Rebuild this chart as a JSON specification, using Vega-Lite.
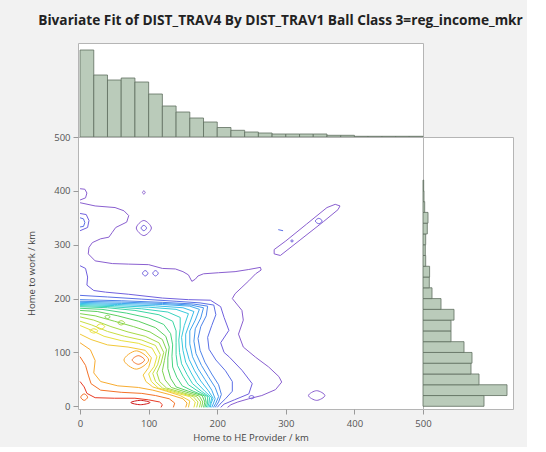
{
"$schema": "https://vega.github.io/schema/vega-lite/v6.json",
"background": "#f2f2f2",
"padding": {"left": 26, "top": 13, "right": 4, "bottom": 4},
"title": {"text": "Bivariate Fit of DIST_TRAV4 By DIST_TRAV1 Ball Class 3=reg_income_mkr", "anchor": "start", "font": "Open Sans", "fontSize": 13.7, "fontWeight": "bold", "color": "#222222", "offset": 15, "dx": 12},
"bounds": "flush",
"spacing": 0,
"config": {"view": {"stroke": "#b5b5b5", "fill": "white"}},
"datasets": {
"top": [
{"b0":0,"b1":20,"n":87},{"b0":20,"b1":40,"n":62},{"b0":40,"b1":60,"n":57},{"b0":60,"b1":80,"n":59},{"b0":80,"b1":100,"n":55},
{"b0":100,"b1":120,"n":43},{"b0":120,"b1":140,"n":31},{"b0":140,"b1":160,"n":25},{"b0":160,"b1":180,"n":19},{"b0":180,"b1":200,"n":15},
{"b0":200,"b1":220,"n":9.5},{"b0":220,"b1":240,"n":6.7},{"b0":240,"b1":260,"n":5},{"b0":260,"b1":280,"n":4},{"b0":280,"b1":300,"n":3},
{"b0":300,"b1":320,"n":3},{"b0":320,"b1":340,"n":3},{"b0":340,"b1":360,"n":3},{"b0":360,"b1":380,"n":1.7},{"b0":380,"b1":400,"n":1.7},
{"b0":400,"b1":420,"n":0.7},{"b0":420,"b1":440,"n":0.7},{"b0":440,"b1":460,"n":0.7},{"b0":460,"b1":480,"n":0.7},{"b0":480,"b1":500,"n":0.7}
],
"right": [
{"b0":0,"b1":20,"n":61},{"b0":20,"b1":40,"n":84},{"b0":40,"b1":60,"n":56},{"b0":60,"b1":80,"n":48},{"b0":80,"b1":100,"n":49},
{"b0":100,"b1":120,"n":41},{"b0":120,"b1":140,"n":28},{"b0":140,"b1":160,"n":28},{"b0":160,"b1":180,"n":31},{"b0":180,"b1":200,"n":18},
{"b0":200,"b1":220,"n":9},{"b0":220,"b1":240,"n":6.3},{"b0":240,"b1":260,"n":6.6},{"b0":260,"b1":280,"n":2.7},{"b0":280,"b1":300,"n":2.3},
{"b0":300,"b1":320,"n":2.7},{"b0":320,"b1":340,"n":4.3},{"b0":340,"b1":360,"n":5},{"b0":360,"b1":380,"n":1.7},{"b0":380,"b1":400,"n":1},
{"b0":400,"b1":420,"n":0.7}
],
"cont": [
{"c":"a1","k":"a","l":1,"x":0,"y":378},{"c":"a1","k":"a","l":1,"x":22,"y":372},{"c":"a1","k":"a","l":1,"x":51,"y":369},{"c":"a1","k":"a","l":1,"x":64,"y":363},{"c":"a1","k":"a","l":1,"x":71,"y":354},{"c":"a1","k":"a","l":1,"x":68,"y":342},{"c":"a1","k":"a","l":1,"x":52,"y":332},{"c":"a1","k":"a","l":1,"x":47,"y":323},{"c":"a1","k":"a","l":1,"x":42,"y":314},{"c":"a1","k":"a","l":1,"x":30,"y":311},{"c":"a1","k":"a","l":1,"x":18,"y":304},{"c":"a1","k":"a","l":1,"x":13,"y":295},{"c":"a1","k":"a","l":1,"x":12,"y":283},{"c":"a1","k":"a","l":1,"x":22,"y":270},{"c":"a1","k":"a","l":1,"x":47,"y":265},{"c":"a1","k":"a","l":1,"x":71,"y":264},{"c":"a1","k":"a","l":1,"x":100,"y":263},{"c":"a1","k":"a","l":1,"x":120,"y":256},{"c":"a1","k":"a","l":1,"x":139,"y":255},{"c":"a1","k":"a","l":1,"x":150,"y":250},{"c":"a1","k":"a","l":1,"x":158,"y":244},{"c":"a1","k":"a","l":1,"x":163,"y":232},{"c":"a1","k":"a","l":1,"x":168,"y":236},{"c":"a1","k":"a","l":1,"x":172,"y":242},{"c":"a1","k":"a","l":1,"x":180,"y":246},{"c":"a1","k":"a","l":1,"x":202,"y":248},{"c":"a1","k":"a","l":1,"x":226,"y":250},{"c":"a1","k":"a","l":1,"x":246,"y":254},{"c":"a1","k":"a","l":1,"x":263,"y":258},{"c":"a1","k":"a","l":1,"x":264,"y":253},{"c":"a1","k":"a","l":1,"x":256,"y":246},{"c":"a1","k":"a","l":1,"x":246,"y":233},{"c":"a1","k":"a","l":1,"x":236,"y":221},{"c":"a1","k":"a","l":1,"x":226,"y":209},{"c":"a1","k":"a","l":1,"x":222,"y":200},{"c":"a1","k":"a","l":1,"x":236,"y":178},{"c":"a1","k":"a","l":1,"x":238,"y":160},{"c":"a1","k":"a","l":1,"x":231,"y":134},{"c":"a1","k":"a","l":1,"x":238,"y":110},{"c":"a1","k":"a","l":1,"x":256,"y":91},{"c":"a1","k":"a","l":1,"x":275,"y":73},{"c":"a1","k":"a","l":1,"x":290,"y":55},{"c":"a1","k":"a","l":1,"x":294,"y":45},{"c":"a1","k":"a","l":1,"x":285,"y":31},{"c":"a1","k":"a","l":1,"x":265,"y":20},{"c":"a1","k":"a","l":1,"x":246,"y":14},{"c":"a1","k":"a","l":1,"x":230,"y":8},{"c":"a1","k":"a","l":1,"x":220,"y":3},{"c":"a1","k":"a","l":1,"x":215,"y":-2},
{"c":"a1b","k":"a","l":1,"x":0,"y":404},{"c":"a1b","k":"a","l":1,"x":7,"y":403},{"c":"a1b","k":"a","l":1,"x":10,"y":396},{"c":"a1b","k":"a","l":1,"x":8,"y":387},{"c":"a1b","k":"a","l":1,"x":0,"y":383},
{"c":"e1","k":"a","l":1,"x":283,"y":283},{"c":"e1","k":"a","l":1,"x":292,"y":280},{"c":"e1","k":"a","l":1,"x":322,"y":310},{"c":"e1","k":"a","l":1,"x":355,"y":343},{"c":"e1","k":"a","l":1,"x":376,"y":365},{"c":"e1","k":"a","l":1,"x":379,"y":372},{"c":"e1","k":"a","l":1,"x":372,"y":375},{"c":"e1","k":"a","l":1,"x":360,"y":369},{"c":"e1","k":"a","l":1,"x":330,"y":338},{"c":"e1","k":"a","l":1,"x":300,"y":307},{"c":"e1","k":"a","l":1,"x":283,"y":291},{"c":"e1","k":"a","l":1,"x":283,"y":283},
{"c":"a2","k":"a","l":2,"x":0,"y":261},{"c":"a2","k":"a","l":2,"x":8,"y":256},{"c":"a2","k":"a","l":2,"x":11,"y":240},{"c":"a2","k":"a","l":2,"x":10,"y":225},{"c":"a2","k":"a","l":2,"x":20,"y":215},{"c":"a2","k":"a","l":2,"x":37,"y":212},{"c":"a2","k":"a","l":2,"x":71,"y":208},{"c":"a2","k":"a","l":2,"x":120,"y":201},{"c":"a2","k":"a","l":2,"x":158,"y":198},{"c":"a2","k":"a","l":2,"x":190,"y":197},{"c":"a2","k":"a","l":2,"x":205,"y":185},{"c":"a2","k":"a","l":2,"x":210,"y":165},{"c":"a2","k":"a","l":2,"x":217,"y":141},{"c":"a2","k":"a","l":2,"x":205,"y":118},{"c":"a2","k":"a","l":2,"x":210,"y":100},{"c":"a2","k":"a","l":2,"x":218,"y":91},{"c":"a2","k":"a","l":2,"x":236,"y":67},{"c":"a2","k":"a","l":2,"x":251,"y":42},{"c":"a2","k":"a","l":2,"x":246,"y":23},{"c":"a2","k":"a","l":2,"x":225,"y":12},{"c":"a2","k":"a","l":2,"x":210,"y":4},{"c":"a2","k":"a","l":2,"x":205,"y":-2},
{"c":"a2b","k":"a","l":2,"x":0,"y":358},{"c":"a2b","k":"a","l":2,"x":9,"y":356},{"c":"a2b","k":"a","l":2,"x":13,"y":345},{"c":"a2b","k":"a","l":2,"x":11,"y":332},{"c":"a2b","k":"a","l":2,"x":0,"y":326},
{"c":"a3","k":"a","l":3,"x":0,"y":206},{"c":"a3","k":"a","l":3,"x":40,"y":203},{"c":"a3","k":"a","l":3,"x":90,"y":199},{"c":"a3","k":"a","l":3,"x":140,"y":195},{"c":"a3","k":"a","l":3,"x":175,"y":192},{"c":"a3","k":"a","l":3,"x":195,"y":188},{"c":"a3","k":"a","l":3,"x":198,"y":170},{"c":"a3","k":"a","l":3,"x":192,"y":150},{"c":"a3","k":"a","l":3,"x":186,"y":128},{"c":"a3","k":"a","l":3,"x":188,"y":106},{"c":"a3","k":"a","l":3,"x":198,"y":86},{"c":"a3","k":"a","l":3,"x":212,"y":66},{"c":"a3","k":"a","l":3,"x":222,"y":46},{"c":"a3","k":"a","l":3,"x":222,"y":28},{"c":"a3","k":"a","l":3,"x":212,"y":14},{"c":"a3","k":"a","l":3,"x":204,"y":4},{"c":"a3","k":"a","l":3,"x":200,"y":-2},
{"c":"a3b","k":"a","l":3,"x":0,"y":350},{"c":"a3b","k":"a","l":3,"x":5,"y":348},{"c":"a3b","k":"a","l":3,"x":7,"y":341},{"c":"a3b","k":"a","l":3,"x":5,"y":334},{"c":"a3b","k":"a","l":3,"x":0,"y":333},
{"c":"a3c","k":"a","l":3,"x":289,"y":328},{"c":"a3c","k":"a","l":3,"x":296,"y":326},
{"c":"a4","k":"a","l":4,"x":0,"y":198},{"c":"a4","k":"a","l":4,"x":60,"y":196},{"c":"a4","k":"a","l":4,"x":120,"y":193},{"c":"a4","k":"a","l":4,"x":165,"y":190},{"c":"a4","k":"a","l":4,"x":186,"y":186},{"c":"a4","k":"a","l":4,"x":184,"y":168},{"c":"a4","k":"a","l":4,"x":176,"y":148},{"c":"a4","k":"a","l":4,"x":172,"y":126},{"c":"a4","k":"a","l":4,"x":175,"y":104},{"c":"a4","k":"a","l":4,"x":182,"y":82},{"c":"a4","k":"a","l":4,"x":192,"y":60},{"c":"a4","k":"a","l":4,"x":202,"y":40},{"c":"a4","k":"a","l":4,"x":206,"y":22},{"c":"a4","k":"a","l":4,"x":202,"y":8},{"c":"a4","k":"a","l":4,"x":197,"y":-2},
{"c":"a45","k":"a","l":4.5,"x":0,"y":195},{"c":"a45","k":"a","l":4.5,"x":60,"y":193.5},{"c":"a45","k":"a","l":4.5,"x":120,"y":191},{"c":"a45","k":"a","l":4.5,"x":162,"y":188},{"c":"a45","k":"a","l":4.5,"x":180,"y":183},{"c":"a45","k":"a","l":4.5,"x":176,"y":164},{"c":"a45","k":"a","l":4.5,"x":168,"y":144},{"c":"a45","k":"a","l":4.5,"x":166,"y":121},{"c":"a45","k":"a","l":4.5,"x":169,"y":98},{"c":"a45","k":"a","l":4.5,"x":177,"y":76},{"c":"a45","k":"a","l":4.5,"x":187,"y":55},{"c":"a45","k":"a","l":4.5,"x":197,"y":35},{"c":"a45","k":"a","l":4.5,"x":202,"y":18},{"c":"a45","k":"a","l":4.5,"x":198,"y":6},{"c":"a45","k":"a","l":4.5,"x":194.5,"y":-2},
{"c":"a5","k":"a","l":5,"x":0,"y":193},{"c":"a5","k":"a","l":5,"x":60,"y":191},{"c":"a5","k":"a","l":5,"x":120,"y":189},{"c":"a5","k":"a","l":5,"x":160,"y":186},{"c":"a5","k":"a","l":5,"x":174,"y":180},{"c":"a5","k":"a","l":5,"x":168,"y":160},{"c":"a5","k":"a","l":5,"x":160,"y":140},{"c":"a5","k":"a","l":5,"x":160,"y":116},{"c":"a5","k":"a","l":5,"x":164,"y":92},{"c":"a5","k":"a","l":5,"x":172,"y":70},{"c":"a5","k":"a","l":5,"x":182,"y":50},{"c":"a5","k":"a","l":5,"x":192,"y":30},{"c":"a5","k":"a","l":5,"x":197,"y":14},{"c":"a5","k":"a","l":5,"x":194,"y":4},{"c":"a5","k":"a","l":5,"x":192,"y":-2},
{"c":"a55","k":"a","l":5.5,"x":0,"y":191},{"c":"a55","k":"a","l":5.5,"x":55,"y":189},{"c":"a55","k":"a","l":5.5,"x":110,"y":186.5},{"c":"a55","k":"a","l":5.5,"x":150,"y":183},{"c":"a55","k":"a","l":5.5,"x":166,"y":176},{"c":"a55","k":"a","l":5.5,"x":160,"y":155},{"c":"a55","k":"a","l":5.5,"x":154,"y":134},{"c":"a55","k":"a","l":5.5,"x":154,"y":110},{"c":"a55","k":"a","l":5.5,"x":159,"y":87},{"c":"a55","k":"a","l":5.5,"x":167,"y":66},{"c":"a55","k":"a","l":5.5,"x":176,"y":47},{"c":"a55","k":"a","l":5.5,"x":187,"y":29},{"c":"a55","k":"a","l":5.5,"x":194,"y":15},{"c":"a55","k":"a","l":5.5,"x":191,"y":5},{"c":"a55","k":"a","l":5.5,"x":190,"y":-2},
{"c":"a6","k":"a","l":6,"x":0,"y":189},{"c":"a6","k":"a","l":6,"x":50,"y":187},{"c":"a6","k":"a","l":6,"x":100,"y":184},{"c":"a6","k":"a","l":6,"x":140,"y":180},{"c":"a6","k":"a","l":6,"x":158,"y":172},{"c":"a6","k":"a","l":6,"x":152,"y":150},{"c":"a6","k":"a","l":6,"x":148,"y":128},{"c":"a6","k":"a","l":6,"x":150,"y":104},{"c":"a6","k":"a","l":6,"x":154,"y":82},{"c":"a6","k":"a","l":6,"x":162,"y":62},{"c":"a6","k":"a","l":6,"x":170,"y":44},{"c":"a6","k":"a","l":6,"x":182,"y":28},{"c":"a6","k":"a","l":6,"x":192,"y":16},{"c":"a6","k":"a","l":6,"x":190,"y":5},{"c":"a6","k":"a","l":6,"x":188,"y":-2},
{"c":"a65","k":"a","l":6.5,"x":0,"y":187},{"c":"a65","k":"a","l":6.5,"x":45,"y":185},{"c":"a65","k":"a","l":6.5,"x":90,"y":181},{"c":"a65","k":"a","l":6.5,"x":128,"y":175},{"c":"a65","k":"a","l":6.5,"x":146,"y":165},{"c":"a65","k":"a","l":6.5,"x":146,"y":145},{"c":"a65","k":"a","l":6.5,"x":144,"y":123},{"c":"a65","k":"a","l":6.5,"x":145,"y":100},{"c":"a65","k":"a","l":6.5,"x":148,"y":79},{"c":"a65","k":"a","l":6.5,"x":156,"y":59},{"c":"a65","k":"a","l":6.5,"x":164,"y":42},{"c":"a65","k":"a","l":6.5,"x":177,"y":28},{"c":"a65","k":"a","l":6.5,"x":189,"y":17},{"c":"a65","k":"a","l":6.5,"x":188,"y":6},{"c":"a65","k":"a","l":6.5,"x":186,"y":-2},
{"c":"a7","k":"a","l":7,"x":0,"y":185},{"c":"a7","k":"a","l":7,"x":40,"y":183},{"c":"a7","k":"a","l":7,"x":80,"y":178},{"c":"a7","k":"a","l":7,"x":115,"y":170},{"c":"a7","k":"a","l":7,"x":135,"y":158},{"c":"a7","k":"a","l":7,"x":140,"y":140},{"c":"a7","k":"a","l":7,"x":140,"y":118},{"c":"a7","k":"a","l":7,"x":140,"y":96},{"c":"a7","k":"a","l":7,"x":142,"y":76},{"c":"a7","k":"a","l":7,"x":150,"y":56},{"c":"a7","k":"a","l":7,"x":158,"y":40},{"c":"a7","k":"a","l":7,"x":172,"y":28},{"c":"a7","k":"a","l":7,"x":186,"y":18},{"c":"a7","k":"a","l":7,"x":186,"y":6},{"c":"a7","k":"a","l":7,"x":184,"y":-2},
{"c":"a75","k":"a","l":7.5,"x":0,"y":182},{"c":"a75","k":"a","l":7.5,"x":32,"y":180},{"c":"a75","k":"a","l":7.5,"x":68,"y":173},{"c":"a75","k":"a","l":7.5,"x":100,"y":164},{"c":"a75","k":"a","l":7.5,"x":122,"y":152},{"c":"a75","k":"a","l":7.5,"x":132,"y":135},{"c":"a75","k":"a","l":7.5,"x":135,"y":114},{"c":"a75","k":"a","l":7.5,"x":134,"y":93},{"c":"a75","k":"a","l":7.5,"x":135,"y":73},{"c":"a75","k":"a","l":7.5,"x":141,"y":54},{"c":"a75","k":"a","l":7.5,"x":149,"y":38},{"c":"a75","k":"a","l":7.5,"x":165,"y":28},{"c":"a75","k":"a","l":7.5,"x":182,"y":19},{"c":"a75","k":"a","l":7.5,"x":184,"y":7},{"c":"a75","k":"a","l":7.5,"x":182,"y":-2},
{"c":"a8","k":"a","l":8,"x":0,"y":178},{"c":"a8","k":"a","l":8,"x":25,"y":176},{"c":"a8","k":"a","l":8,"x":55,"y":168},{"c":"a8","k":"a","l":8,"x":85,"y":158},{"c":"a8","k":"a","l":8,"x":110,"y":146},{"c":"a8","k":"a","l":8,"x":125,"y":130},{"c":"a8","k":"a","l":8,"x":130,"y":110},{"c":"a8","k":"a","l":8,"x":128,"y":90},{"c":"a8","k":"a","l":8,"x":128,"y":70},{"c":"a8","k":"a","l":8,"x":132,"y":52},{"c":"a8","k":"a","l":8,"x":140,"y":36},{"c":"a8","k":"a","l":8,"x":158,"y":28},{"c":"a8","k":"a","l":8,"x":178,"y":20},{"c":"a8","k":"a","l":8,"x":182,"y":8},{"c":"a8","k":"a","l":8,"x":180,"y":-2},
{"c":"a85","k":"a","l":8.5,"x":0,"y":172},{"c":"a85","k":"a","l":8.5,"x":22,"y":168},{"c":"a85","k":"a","l":8.5,"x":50,"y":158},{"c":"a85","k":"a","l":8.5,"x":78,"y":148},{"c":"a85","k":"a","l":8.5,"x":102,"y":138},{"c":"a85","k":"a","l":8.5,"x":120,"y":124},{"c":"a85","k":"a","l":8.5,"x":126,"y":105},{"c":"a85","k":"a","l":8.5,"x":123,"y":85},{"c":"a85","k":"a","l":8.5,"x":120,"y":66},{"c":"a85","k":"a","l":8.5,"x":124,"y":49},{"c":"a85","k":"a","l":8.5,"x":133,"y":35},{"c":"a85","k":"a","l":8.5,"x":153,"y":27},{"c":"a85","k":"a","l":8.5,"x":174,"y":19},{"c":"a85","k":"a","l":8.5,"x":179,"y":8},{"c":"a85","k":"a","l":8.5,"x":177,"y":-2},
{"c":"a9","k":"a","l":9,"x":0,"y":166},{"c":"a9","k":"a","l":9,"x":20,"y":160},{"c":"a9","k":"a","l":9,"x":45,"y":148},{"c":"a9","k":"a","l":9,"x":70,"y":138},{"c":"a9","k":"a","l":9,"x":95,"y":130},{"c":"a9","k":"a","l":9,"x":115,"y":118},{"c":"a9","k":"a","l":9,"x":122,"y":100},{"c":"a9","k":"a","l":9,"x":118,"y":80},{"c":"a9","k":"a","l":9,"x":112,"y":62},{"c":"a9","k":"a","l":9,"x":116,"y":46},{"c":"a9","k":"a","l":9,"x":126,"y":34},{"c":"a9","k":"a","l":9,"x":148,"y":26},{"c":"a9","k":"a","l":9,"x":170,"y":18},{"c":"a9","k":"a","l":9,"x":176,"y":8},{"c":"a9","k":"a","l":9,"x":174,"y":-2},
{"c":"a95","k":"a","l":9.5,"x":0,"y":158},{"c":"a95","k":"a","l":9.5,"x":17,"y":151},{"c":"a95","k":"a","l":9.5,"x":40,"y":139},{"c":"a95","k":"a","l":9.5,"x":65,"y":130},{"c":"a95","k":"a","l":9.5,"x":90,"y":123},{"c":"a95","k":"a","l":9.5,"x":110,"y":113},{"c":"a95","k":"a","l":9.5,"x":117,"y":96},{"c":"a95","k":"a","l":9.5,"x":113,"y":77},{"c":"a95","k":"a","l":9.5,"x":106,"y":61},{"c":"a95","k":"a","l":9.5,"x":110,"y":46},{"c":"a95","k":"a","l":9.5,"x":120,"y":34},{"c":"a95","k":"a","l":9.5,"x":142,"y":26},{"c":"a95","k":"a","l":9.5,"x":165,"y":18},{"c":"a95","k":"a","l":9.5,"x":172,"y":8},{"c":"a95","k":"a","l":9.5,"x":170,"y":-2},
{"c":"a10","k":"a","l":10,"x":0,"y":150},{"c":"a10","k":"a","l":10,"x":15,"y":142},{"c":"a10","k":"a","l":10,"x":35,"y":130},{"c":"a10","k":"a","l":10,"x":60,"y":122},{"c":"a10","k":"a","l":10,"x":85,"y":117},{"c":"a10","k":"a","l":10,"x":105,"y":108},{"c":"a10","k":"a","l":10,"x":112,"y":92},{"c":"a10","k":"a","l":10,"x":108,"y":74},{"c":"a10","k":"a","l":10,"x":100,"y":60},{"c":"a10","k":"a","l":10,"x":104,"y":46},{"c":"a10","k":"a","l":10,"x":114,"y":34},{"c":"a10","k":"a","l":10,"x":136,"y":26},{"c":"a10","k":"a","l":10,"x":160,"y":18},{"c":"a10","k":"a","l":10,"x":168,"y":8},{"c":"a10","k":"a","l":10,"x":166,"y":-2},
{"c":"a105","k":"a","l":10.5,"x":0,"y":134},{"c":"a105","k":"a","l":10.5,"x":16,"y":124},{"c":"a105","k":"a","l":10.5,"x":40,"y":114},{"c":"a105","k":"a","l":10.5,"x":70,"y":110},{"c":"a105","k":"a","l":10.5,"x":95,"y":104},{"c":"a105","k":"a","l":10.5,"x":104,"y":90},{"c":"a105","k":"a","l":10.5,"x":100,"y":72},{"c":"a105","k":"a","l":10.5,"x":92,"y":58},{"c":"a105","k":"a","l":10.5,"x":96,"y":46},{"c":"a105","k":"a","l":10.5,"x":106,"y":36},{"c":"a105","k":"a","l":10.5,"x":126,"y":28},{"c":"a105","k":"a","l":10.5,"x":146,"y":20},{"c":"a105","k":"a","l":10.5,"x":160,"y":10},{"c":"a105","k":"a","l":10.5,"x":158,"y":-2},
{"c":"a11","k":"a","l":11,"x":0,"y":118},{"c":"a11","k":"a","l":11,"x":15,"y":105},{"c":"a11","k":"a","l":11,"x":22,"y":85},{"c":"a11","k":"a","l":11,"x":20,"y":62},{"c":"a11","k":"a","l":11,"x":30,"y":46},{"c":"a11","k":"a","l":11,"x":55,"y":38},{"c":"a11","k":"a","l":11,"x":85,"y":35},{"c":"a11","k":"a","l":11,"x":106,"y":30},{"c":"a11","k":"a","l":11,"x":130,"y":22},{"c":"a11","k":"a","l":11,"x":150,"y":14},{"c":"a11","k":"a","l":11,"x":156,"y":6},{"c":"a11","k":"a","l":11,"x":154,"y":-2},
{"c":"a12","k":"a","l":12,"x":0,"y":92},{"c":"a12","k":"a","l":12,"x":8,"y":76},{"c":"a12","k":"a","l":12,"x":12,"y":58},{"c":"a12","k":"a","l":12,"x":16,"y":42},{"c":"a12","k":"a","l":12,"x":30,"y":30},{"c":"a12","k":"a","l":12,"x":60,"y":26},{"c":"a12","k":"a","l":12,"x":90,"y":24},{"c":"a12","k":"a","l":12,"x":110,"y":20},{"c":"a12","k":"a","l":12,"x":130,"y":14},{"c":"a12","k":"a","l":12,"x":138,"y":6},{"c":"a12","k":"a","l":12,"x":136,"y":-2},
{"c":"a13","k":"a","l":13,"x":0,"y":46},{"c":"a13","k":"a","l":13,"x":6,"y":36},{"c":"a13","k":"a","l":13,"x":10,"y":24},{"c":"a13","k":"a","l":13,"x":22,"y":16},{"c":"a13","k":"a","l":13,"x":50,"y":15},{"c":"a13","k":"a","l":13,"x":80,"y":15},{"c":"a13","k":"a","l":13,"x":100,"y":12},{"c":"a13","k":"a","l":13,"x":116,"y":8},{"c":"a13","k":"a","l":13,"x":120,"y":3},{"c":"a13","k":"a","l":13,"x":118,"y":-2},
{"c":"o1","k":"o","l":1,"x":104,"y":331},{"c":"o1","k":"o","l":1,"x":93,"y":345},{"c":"o1","k":"o","l":1,"x":82,"y":331},{"c":"o1","k":"o","l":1,"x":93,"y":317},
{"c":"o2","k":"o","l":1,"x":95,"y":397},{"c":"o2","k":"o","l":1,"x":93,"y":400},{"c":"o2","k":"o","l":1,"x":91,"y":397},{"c":"o2","k":"o","l":1,"x":93,"y":394},
{"c":"o3","k":"o","l":1,"x":357,"y":20},{"c":"o3","k":"o","l":1,"x":345,"y":29},{"c":"o3","k":"o","l":1,"x":333,"y":20},{"c":"o3","k":"o","l":1,"x":345,"y":11},
{"c":"o4","k":"o","l":2,"x":97,"y":331},{"c":"o4","k":"o","l":2,"x":93,"y":336},{"c":"o4","k":"o","l":2,"x":89,"y":331},{"c":"o4","k":"o","l":2,"x":93,"y":326},
{"c":"o5","k":"o","l":2,"x":353,"y":344},{"c":"o5","k":"o","l":2,"x":348,"y":349},{"c":"o5","k":"o","l":2,"x":343,"y":344},{"c":"o5","k":"o","l":2,"x":348,"y":339},
{"c":"o6","k":"o","l":2,"x":311,"y":307},{"c":"o6","k":"o","l":2,"x":309,"y":309},{"c":"o6","k":"o","l":2,"x":307,"y":307},{"c":"o6","k":"o","l":2,"x":309,"y":305},
{"c":"o7","k":"o","l":2,"x":254,"y":17},{"c":"o7","k":"o","l":2,"x":250,"y":20},{"c":"o7","k":"o","l":2,"x":246,"y":17},{"c":"o7","k":"o","l":2,"x":250,"y":14},
{"c":"o8","k":"o","l":2,"x":99,"y":247},{"c":"o8","k":"o","l":2,"x":95,"y":252},{"c":"o8","k":"o","l":2,"x":91,"y":247},{"c":"o8","k":"o","l":2,"x":95,"y":242},
{"c":"o9","k":"o","l":2,"x":114,"y":247},{"c":"o9","k":"o","l":2,"x":110,"y":252},{"c":"o9","k":"o","l":2,"x":106,"y":247},{"c":"o9","k":"o","l":2,"x":110,"y":242},
{"c":"o10","k":"o","l":11,"x":100,"y":86},{"c":"o10","k":"o","l":11,"x":82,"y":103},{"c":"o10","k":"o","l":11,"x":64,"y":86},{"c":"o10","k":"o","l":11,"x":82,"y":69},
{"c":"o11","k":"o","l":12,"x":94,"y":86},{"c":"o11","k":"o","l":12,"x":85,"y":94},{"c":"o11","k":"o","l":12,"x":76,"y":86},{"c":"o11","k":"o","l":12,"x":85,"y":78},
{"c":"o12","k":"o","l":12,"x":11,"y":17},{"c":"o12","k":"o","l":12,"x":6,"y":23},{"c":"o12","k":"o","l":12,"x":1,"y":17},{"c":"o12","k":"o","l":12,"x":6,"y":11},
{"c":"o13","k":"o","l":14,"x":102,"y":7},{"c":"o13","k":"o","l":14,"x":88,"y":11},{"c":"o13","k":"o","l":14,"x":74,"y":7},{"c":"o13","k":"o","l":14,"x":88,"y":3},
{"c":"o14","k":"o","l":10,"x":36,"y":148},{"c":"o14","k":"o","l":10,"x":30,"y":153},{"c":"o14","k":"o","l":10,"x":24,"y":148},{"c":"o14","k":"o","l":10,"x":30,"y":143},
{"c":"o15","k":"o","l":9,"x":65,"y":155},{"c":"o15","k":"o","l":9,"x":60,"y":159},{"c":"o15","k":"o","l":9,"x":55,"y":155},{"c":"o15","k":"o","l":9,"x":60,"y":151},
{"c":"o16","k":"o","l":8.5,"x":44,"y":166},{"c":"o16","k":"o","l":8.5,"x":40,"y":169},{"c":"o16","k":"o","l":8.5,"x":36,"y":166},{"c":"o16","k":"o","l":8.5,"x":40,"y":163},
{"c":"o17","k":"o","l":10,"x":26,"y":140},{"c":"o17","k":"o","l":10,"x":20,"y":144},{"c":"o17","k":"o","l":10,"x":14,"y":140},{"c":"o17","k":"o","l":10,"x":20,"y":136}
]
},
"vconcat": [
{
"width": 345, "height": 94,
"data": {"name": "top"},
"mark": {"type": "rect", "fill": "#bacbba", "stroke": "#5f6e5f", "strokeWidth": 0.8},
"encoding": {
"x": {"field": "b0", "type": "quantitative", "scale": {"domain": [-3, 500], "nice": false, "zero": false}, "axis": null},
"x2": {"field": "b1"},
"y": {"field": "n", "type": "quantitative", "scale": {"domain": [0, 94], "nice": false}, "axis": null},
"y2": {"datum": 0}
}
},
{
"hconcat": [
{
"width": 345, "height": 272,
"data": {"name": "cont"},
"encoding": {
"x": {"field": "x", "type": "quantitative", "scale": {"domain": [-3, 500], "nice": false, "zero": false},
"axis": {"title": "Home to HE Provider / km", "values": [0, 100, 200, 300, 400, 500], "grid": false, "domain": false, "tickColor": "#9a9a9a", "tickSize": 5, "labelPadding": 4, "labelFont": "Open Sans", "labelFontSize": 9.5, "labelColor": "#555555", "titleFont": "Open Sans", "titleFontSize": 9.5, "titleFontWeight": "normal", "titleColor": "#444444", "titlePadding": 5, "labelFlush": false}},
"y": {"field": "y", "type": "quantitative", "scale": {"domain": [-5, 500], "nice": false, "zero": false},
"axis": {"title": "Home to work / km", "values": [0, 100, 200, 300, 400, 500], "grid": false, "domain": false, "tickColor": "#9a9a9a", "tickSize": 5, "labelPadding": 3, "labelFont": "Open Sans", "labelFontSize": 9.5, "labelColor": "#555555", "titleFont": "Open Sans", "titleFontSize": 9.5, "titleFontWeight": "normal", "titleColor": "#444444", "titlePadding": 17, "labelFlush": false}},
"color": {"field": "l", "type": "ordinal", "legend": null,
"scale": {"domain": [1,2,3,4,4.5,5,5.5,6,6.5,7,7.5,8,8.5,9,9.5,10,10.5,11,12,13,14], "range": ["#8a5fd0","#7060de","#5b6fe6","#4d84ea","#4596ec","#3fa9ee","#3bbde8","#38cadc","#39d3c0","#3cd6a4","#48d480","#5ccf5e","#80d450","#a6da46","#c8de42","#e8e03e","#f2c838","#f8ac30","#f47228","#e83a24","#d01818"]}},
"detail": {"field": "c"}
},
"layer": [
{"transform": [{"filter": "datum.k == 'a'"}], "mark": {"type": "line", "strokeWidth": 1, "clip": true}, "encoding": {"order": {"value": null}}},
{"transform": [{"filter": "datum.k == 'o'"}], "mark": {"type": "line", "strokeWidth": 1, "interpolate": "cardinal-closed", "clip": true}, "encoding": {"order": {"value": null}}}
]
},
{
"width": 90, "height": 272,
"data": {"name": "right"},
"mark": {"type": "rect", "fill": "#bacbba", "stroke": "#5f6e5f", "strokeWidth": 0.8},
"encoding": {
"y": {"field": "b0", "type": "quantitative", "scale": {"domain": [-5, 500], "nice": false, "zero": false}, "axis": null},
"y2": {"field": "b1"},
"x": {"field": "n", "type": "quantitative", "scale": {"domain": [0, 90], "nice": false}, "axis": null},
"x2": {"datum": 0}
}
}
],
"spacing": 0,
"bounds": "flush"
}
]
}
